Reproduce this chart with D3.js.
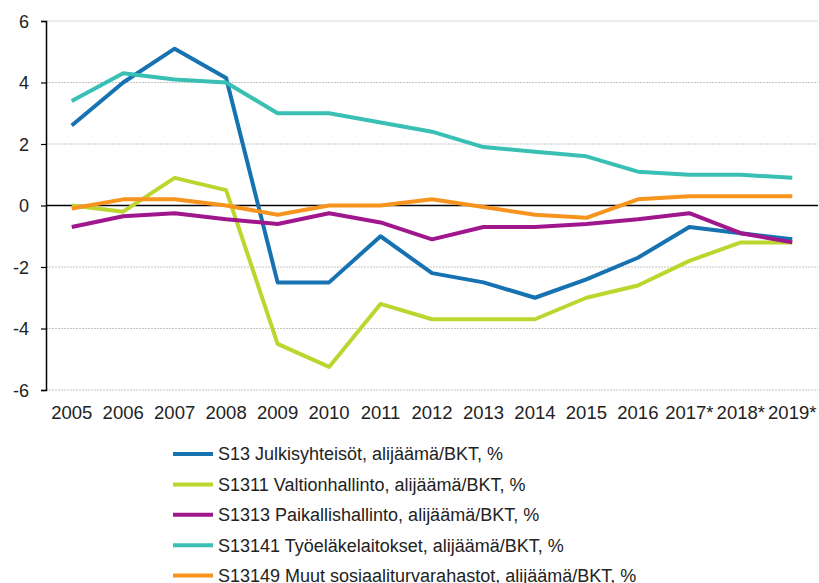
<!DOCTYPE html>
<html>
<head>
<meta charset="utf-8">
<script src="https://cdn.jsdelivr.net/npm/d3@7"></script>
<style>
  body { margin: 0; background: #fff; }
  text { font-family: "Liberation Sans", Arial, sans-serif; fill: #222; }
</style>
</head>
<body>
<div id="chart"></div>
<script>
var w = 819,
    h = 583;

var years = ["2005","2006","2007","2008","2009","2010","2011","2012","2013","2014","2015","2016","2017*","2018*","2019*"];
var yTicks = [-6, -4, -2, 0, 2, 4, 6];

var seriesNames = [
  "S13 Julkisyhteisöt, alijäämä/BKT, %",
  "S1311 Valtionhallinto, alijäämä/BKT, %",
  "S1313 Paikallishallinto, alijäämä/BKT, %",
  "S13141 Työeläkelaitokset, alijäämä/BKT, %",
  "S13149 Muut sosiaaliturvarahastot, alijäämä/BKT, %"
];
var colors = ["#1672b1", "#bdd62f", "#a0168c", "#39bfb4", "#f7941d"];

var s13     = [2.6, 4.0, 5.1, 4.15, -2.5, -2.5, -1.0, -2.2, -2.5, -3.0, -2.4, -1.7, -0.7, -0.9, -1.1];
var s1311   = [0.0, -0.2, 0.9, 0.5, -4.5, -5.25, -3.2, -3.7, -3.7, -3.7, -3.0, -2.6, -1.8, -1.2, -1.2];
var s1313   = [-0.7, -0.35, -0.25, -0.45, -0.6, -0.25, -0.55, -1.1, -0.7, -0.7, -0.6, -0.45, -0.25, -0.9, -1.2];
var s13141  = [3.4, 4.3, 4.1, 4.0, 3.0, 3.0, 2.7, 2.4, 1.9, 1.75, 1.6, 1.1, 1.0, 1.0, 0.9];
var s13149  = [-0.1, 0.2, 0.2, 0.0, -0.3, 0.0, 0.0, 0.2, -0.05, -0.3, -0.4, 0.2, 0.3, 0.3, 0.3];

var allSeries = [s13, s1311, s1313, s13141, s13149];

var mLeft = 46, mRight = 818, mTop = 21, mBottom = 390;

var svg = d3.select("#chart").append("svg")
  .attr("width", w)
  .attr("height", h);

var x = d3.scaleBand()
  .domain(years)
  .range([mLeft, mRight]);

var y = d3.scaleLinear()
  .domain([-6, 6])
  .range([mBottom, mTop]);

// gridlines
svg.append("g")
  .selectAll("line")
  .data(yTicks.filter(function(d) { return d !== 0; }))
  .join("line")
  .attr("x1", mLeft)
  .attr("x2", mRight)
  .attr("y1", function(d) { return y(d); })
  .attr("y2", function(d) { return y(d); })
  .attr("stroke", function(d) { return d === 6 ? "#d9d9d9" : "#c4c4c4"; })
  .attr("stroke-width", 1)
  .attr("stroke-dasharray", function(d) { return d === 6 ? null : "2,1"; });

// y axis
var yAxis = svg.append("g")
  .attr("transform", "translate(" + mLeft + ",0)")
  .call(d3.axisLeft(y).tickValues(yTicks).tickSize(5).tickPadding(12).tickFormat(function(d) { return String(d); }));
yAxis.select(".domain").attr("stroke", "#000").attr("stroke-width", 1.5);
yAxis.selectAll(".tick line").attr("stroke", "#000").attr("stroke-width", 1.2);
yAxis.selectAll("text")
  .style("font-size", "18px")
  .style("font-family", "Liberation Sans, Arial, sans-serif")
  .attr("fill", "#222")
  .attr("dy", "0.36em");

// zero line
svg.append("line")
  .attr("x1", mLeft)
  .attr("x2", mRight)
  .attr("y1", y(0))
  .attr("y2", y(0))
  .attr("stroke", "#000")
  .attr("stroke-width", 1.5);

// x labels
svg.append("g")
  .selectAll("text")
  .data(years)
  .join("text")
  .attr("x", function(d) { return x(d) + x.bandwidth() / 2; })
  .attr("y", 419)
  .attr("text-anchor", "middle")
  .style("font-size", "18.5px")
  .text(function(d) { return d; });

// lines
var line = d3.line()
  .x(function(d, i) { return x(years[i]) + x.bandwidth() / 2; })
  .y(function(d) { return y(d); });

svg.append("g")
  .selectAll("path")
  .data(allSeries)
  .join("path")
  .attr("d", line)
  .attr("fill", "none")
  .attr("stroke", function(d, i) { return colors[i]; })
  .attr("stroke-width", 4)
  .attr("stroke-linejoin", "round");

// legend
var legend = svg.append("g")
  .selectAll("g")
  .data(seriesNames)
  .join("g")
  .attr("transform", function(d, i) { return "translate(173," + (454 + i * 30.4) + ")"; });

legend.append("line")
  .attr("x1", 0)
  .attr("x2", 40)
  .attr("y1", 0)
  .attr("y2", 0)
  .attr("stroke", function(d, i) { return colors[i]; })
  .attr("stroke-width", 4);

legend.append("text")
  .attr("x", 45)
  .attr("y", 0)
  .attr("dy", "0.36em")
  .style("font-size", "18px")
  .text(function(d) { return d; });
</script>
</body>
</html>
